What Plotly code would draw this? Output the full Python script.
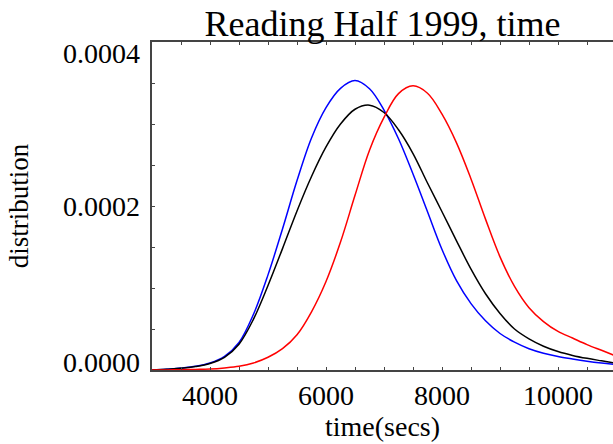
import plotly.graph_objects as go

# ---- data (x in secs, y = distribution) ----
blue_x = [3000, 3250, 3500, 3750, 4000, 4250, 4500, 4750, 5000, 5250, 5500, 5750, 6000, 6250, 6500,
          6750, 7000, 7250, 7500, 7750, 8000, 8250, 8500, 8750, 9000, 9250, 9500, 9750, 10000,
          10250, 10500, 10750, 11000]
blue_y = [0.0, 0.0000010, 0.0000025, 0.0000045, 0.0000085, 0.0000165, 0.0000335, 0.0000680, 0.0001160,
          0.0001720, 0.0002310, 0.0002830, 0.0003200, 0.0003435, 0.0003530,
          0.0003430, 0.0003170, 0.0002820, 0.0002390, 0.0001930, 0.0001470, 0.0001090, 0.0000810,
          0.0000600, 0.0000445, 0.0000340, 0.0000260, 0.0000205, 0.0000165,
          0.0000135, 0.0000108, 0.0000085, 0.0000065]

black_x = [3000, 3250, 3500, 3750, 4000, 4250, 4500, 4750, 5000, 5250, 5500, 5750, 6000, 6250, 6500,
           6750, 7000, 7250, 7500, 7750, 8000, 8250, 8500, 8750, 9000, 9250, 9500, 9750, 10000,
           10250, 10500, 10750, 11000]
black_y = [0.0, 0.0000010, 0.0000020, 0.0000042, 0.0000080, 0.0000155, 0.0000315, 0.0000620, 0.0001030,
           0.0001480, 0.0001940, 0.0002360, 0.0002720, 0.0003000, 0.0003180,
           0.0003230, 0.0003140, 0.0002930, 0.0002640, 0.0002280, 0.0001930, 0.0001575, 0.0001230,
           0.0000930, 0.0000690, 0.0000500, 0.0000380, 0.0000290, 0.0000225,
           0.0000178, 0.0000142, 0.0000112, 0.0000083]

red_x = [3000, 3250, 3500, 3750, 4000, 4250, 4500, 4750, 5000, 5250, 5500, 5750, 6000, 6250, 6500,
         6750, 7000, 7250, 7500, 7750, 8000, 8250, 8500, 8750, 9000, 9250, 9500, 9750, 10000,
         10250, 10500, 10750, 11000]
red_y = [0.0, 0.0000001, 0.0000003, 0.0000007, 0.0000012, 0.0000025, 0.0000045, 0.0000085, 0.0000155,
         0.0000260, 0.0000430, 0.0000710, 0.0001080, 0.0001560, 0.0002130,
         0.0002680, 0.0003080, 0.0003370, 0.0003465, 0.0003375, 0.0003120, 0.0002770, 0.0002330,
         0.0001840, 0.0001380, 0.0001020, 0.0000760, 0.0000590, 0.0000470,
         0.0000390, 0.0000310, 0.0000240, 0.0000170]

x_tickvals = [4000, 6000, 8000, 10000]
y_tickvals = [0.0, 0.0002, 0.0004]
y_ticktext = ["0.0000", "0.0002", "0.0004"]

FONT = "Liberation Serif"
AX = "#444444"

fig = go.Figure()
for xs, ys, col in [(blue_x, blue_y, "#0000ff"), (black_x, black_y, "#000000"), (red_x, red_y, "#ff0000")]:
    fig.add_trace(go.Scatter(x=xs, y=ys, mode="lines",
                             line=dict(color=col, width=1.5, shape="spline", smoothing=1.0),
                             showlegend=False, hoverinfo="skip"))

# y tick labels: bottom one sits above the axis, top one hangs below the top edge
anchors = {0.0: "bottom", 0.0002: "middle", 0.0004: "top"}
shifts = {0.0: -10, 0.0002: 0, 0.0004: 6}
for v, t in zip(y_tickvals, y_ticktext):
    fig.add_annotation(x=0, xref="paper", xanchor="right", xshift=-10,
                       y=v, yref="y", yanchor=anchors[v], yshift=shifts[v],
                       text=t, showarrow=False, font=dict(family=FONT, size=28, color="black"))

fig.update_layout(
    width=613, height=444,
    margin=dict(l=152, r=0, t=42, b=74),
    paper_bgcolor="white", plot_bgcolor="white",
    font=dict(family=FONT, size=28, color="black"),
    title=dict(text="Reading Half 1999, time", font=dict(family=FONT, size=36, color="black"),
               x=(152 + 613) / 2 / 613, xanchor="center", y=0.948, yanchor="middle",
               xref="container", yref="container"),
)
fig.update_xaxes(
    range=[3000, 10948], tickvals=x_tickvals, ticktext=[str(v) for v in x_tickvals],
    ticks="inside", ticklen=3, tickwidth=1, tickcolor=AX,
    minor=dict(dtick=500, tick0=0, ticks="inside", ticklen=3, tickwidth=1, tickcolor=AX),
    showline=True, linecolor=AX, linewidth=1.5, mirror="allticks",
    showgrid=False, zeroline=False,
    title=dict(text="time(secs)", font=dict(family=FONT, size=28), standoff=1),
    tickfont=dict(family=FONT, size=28),
)
fig.update_yaxes(
    range=[0, 0.0004], tickvals=y_tickvals, showticklabels=False,
    ticks="inside", ticklen=3, tickwidth=1, tickcolor=AX,
    minor=dict(dtick=0.00005, tick0=0, ticks="inside", ticklen=3, tickwidth=1, tickcolor=AX),
    showline=True, linecolor=AX, linewidth=1.5, mirror=False,
    showgrid=False, zeroline=False,
    title=dict(text="distribution", font=dict(family=FONT, size=27), standoff=114),
)

fig.write_html("out.html")
